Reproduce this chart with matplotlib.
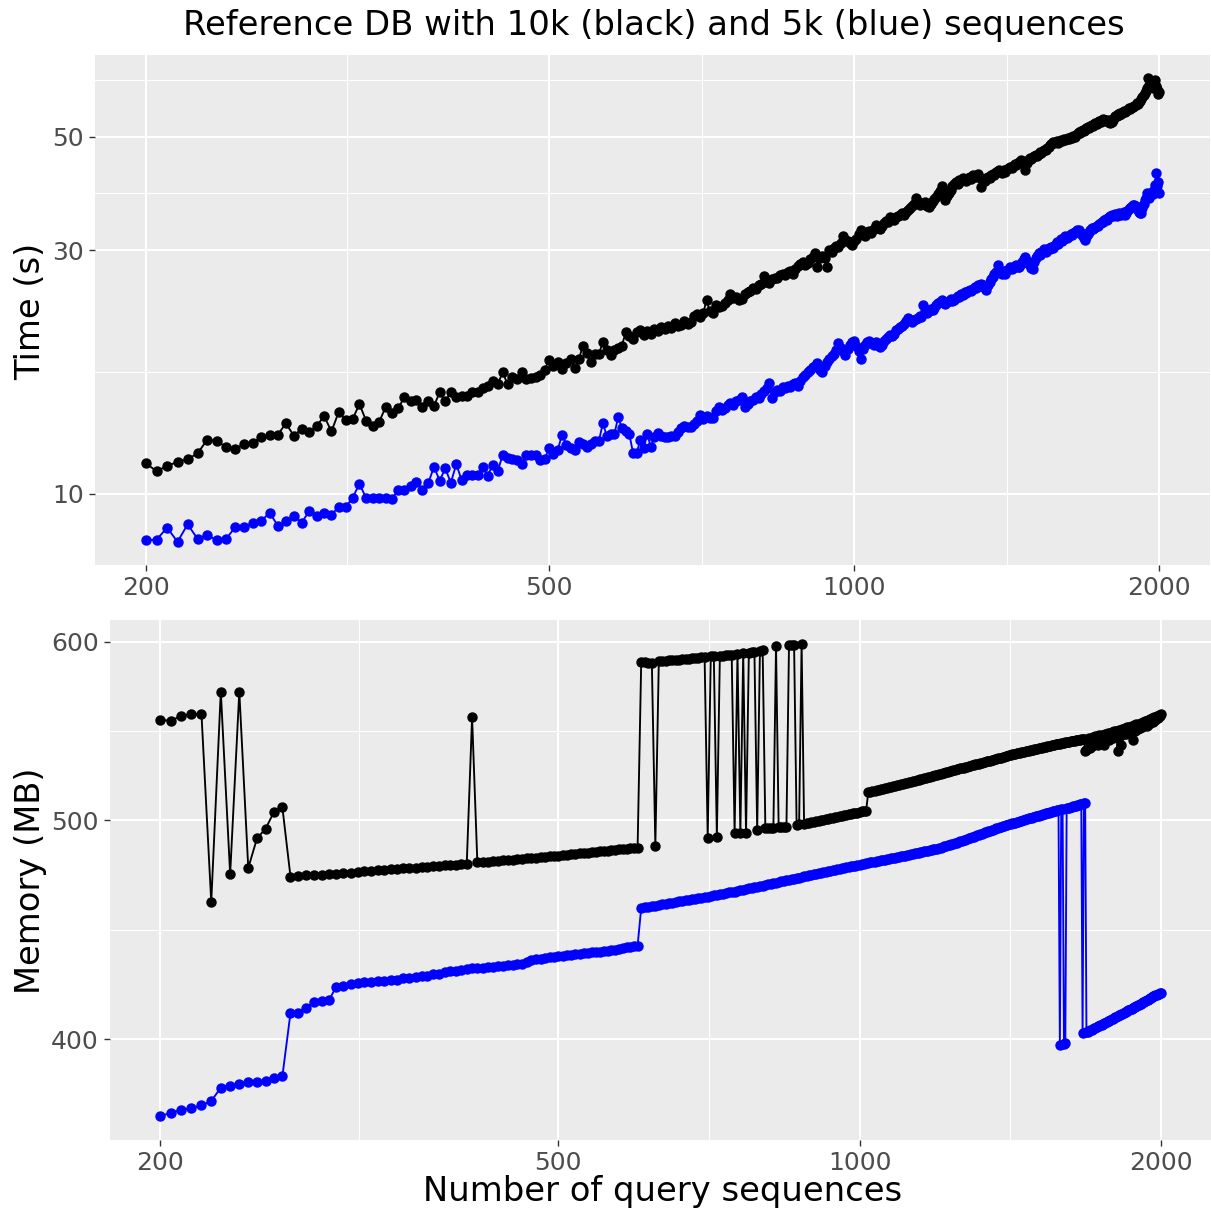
import matplotlib
matplotlib.use('Agg')

import numpy as np
import matplotlib.pyplot as plt
import matplotlib.ticker as mtick

# Data: number of query sequences, 200..2000 in steps of 5
n_query = list(range(200, 2005, 5))

# time (s), reference DB with 10k sequences (black)
time_10k = [
    11.5, 11.07, 11.35, 11.55, 11.7, 12.0, 12.77, 12.7, 12.36, 12.27,
    12.5, 12.6, 12.9, 13.05, 13.05, 13.75, 13.0, 13.4, 13.2, 13.6,
    14.2, 13.25, 14.45, 13.96, 14.0, 15.0, 13.9, 13.6, 13.85, 14.8,
    14.38, 14.7, 15.5, 15.2, 15.28, 14.8, 15.2, 14.88, 15.8, 15.2,
    15.8, 15.5, 15.55, 15.56, 15.8, 15.8, 16.1, 16.3, 16.6, 16.4,
    17.3, 16.4, 16.95, 16.8, 17.35, 16.8, 16.85, 16.95, 17.1, 17.5,
    18.3, 17.8, 18.1, 17.55, 18.0, 18.4, 17.66, 18.35, 19.5, 18.9,
    18.15, 18.8, 18.8, 19.8, 19.1, 18.7, 19.1, 19.3, 19.5, 20.7,
    20.4, 20.1, 20.7, 20.9, 20.5, 20.8, 20.6, 21.0, 20.8, 21.2,
    21.0, 21.3, 21.1, 21.6, 21.3, 21.4, 21.8, 21.5, 21.7, 22.3,
    22.5, 22.2, 22.6, 24.0, 22.8, 22.6, 23.4, 23.2, 23.3, 23.6,
    24.0, 24.6, 24.2, 24.3, 24.0, 24.1, 24.6, 24.8, 25.0, 25.3,
    25.2, 25.6, 25.8, 26.7, 26.0, 25.9, 26.3, 26.5, 26.4, 26.8,
    27.0, 26.8, 27.2, 27.3, 27.0, 27.6, 27.9, 28.2, 28.5, 28.0,
    28.3, 28.8, 29.1, 29.6, 27.8, 28.9, 29.2, 29.0, 27.8, 30.0,
    29.8, 30.3, 30.6, 30.4, 31.0, 31.9, 31.4, 31.2, 31.0, 30.7,
    31.2, 31.6, 32.2, 32.8, 32.3, 32.0, 32.5, 32.7, 32.4, 33.0,
    33.6, 33.2, 33.0, 33.5, 33.9, 34.2, 34.0, 34.9, 34.5, 34.4,
    34.8, 35.0, 35.2, 35.4, 35.1, 35.6, 35.9, 36.3, 36.6, 37.0,
    37.9, 37.2, 36.8, 37.1, 36.9, 37.3, 36.6, 36.5, 37.0, 37.4,
    37.8, 38.1, 38.6, 39.2, 40.1, 38.9, 37.6, 38.3, 38.8, 39.4,
    40.0, 40.5, 40.8, 40.4, 41.2, 40.9, 41.5, 41.3, 41.0, 41.6,
    41.8, 41.4, 42.0, 41.7, 41.9, 42.2, 41.6, 39.8, 41.2, 41.0,
    41.5, 41.8, 41.6, 42.0, 42.3, 42.1, 42.6, 42.9, 43.0, 42.7,
    42.5, 43.0, 42.6, 43.2, 43.5, 43.7, 43.4, 43.9, 44.2, 44.0,
    44.4, 44.7, 45.1, 44.6, 44.2, 43.1, 44.5, 45.0, 45.4, 45.2,
    45.6, 45.9, 46.1, 45.8, 46.3, 46.6, 46.4, 46.8, 47.1, 47.0,
    47.5, 47.8, 48.2, 48.5, 48.9, 48.6, 48.8, 49.0, 48.7, 49.1,
    49.3, 49.0, 49.4, 49.2, 49.5, 49.8, 49.6, 50.0, 49.7, 50.2,
    50.0, 50.4, 50.7, 51.0, 50.8, 51.2, 51.5, 51.3, 51.6, 51.9,
    52.3, 52.0, 52.4, 52.8, 52.6, 52.9, 53.2, 53.0, 53.5, 53.7,
    53.4, 53.9, 54.1, 53.8, 54.0, 53.6, 53.4, 53.8, 53.2, 53.5,
    54.0, 54.4, 54.8, 55.0, 55.3, 55.1, 55.6, 55.4, 55.8, 56.1,
    55.9, 56.2, 56.4, 56.8, 56.6, 57.0, 57.3, 57.1, 57.5, 57.8,
    58.1, 58.0, 58.5, 58.8, 59.3, 59.8, 60.3, 60.8, 61.4, 62.2,
    65.1, 63.2, 62.6, 63.8, 62.4, 63.0, 64.6, 62.8, 61.9, 60.7,
    61.2,
]

# time (s), reference DB with 5k sequences (blue)
time_5k = [
    8.12, 8.14, 8.59, 8.06, 8.72, 8.17, 8.31, 8.12, 8.16, 8.6,
    8.6, 8.76, 8.85, 9.19, 8.67, 8.84, 9.06, 8.78, 9.26, 9.07,
    9.19, 9.1, 9.44, 9.42, 9.83, 10.46, 9.82, 9.81, 9.81, 9.82,
    9.78, 10.18, 10.18, 10.38, 10.57, 10.17, 10.5, 11.3, 10.62, 11.22,
    10.52, 11.43, 10.64, 10.88, 10.87, 10.88, 11.29, 10.86, 11.41, 11.08,
    11.92, 11.76, 11.7, 11.65, 11.44, 11.9, 11.93, 11.9, 11.66, 11.7,
    12.28, 11.96, 12.19, 13.07, 12.47, 12.3, 12.2, 12.63, 12.5, 12.33,
    12.5, 12.7, 12.7, 13.75, 13.0, 13.1, 13.1, 14.13, 13.45, 13.3,
    13.1, 12.05, 12.0, 12.75, 12.3, 13.1, 12.35, 12.9, 13.15, 13.0,
    12.95, 12.95, 13.0, 13.0, 13.2, 13.45, 13.6, 13.5, 13.55, 13.7,
    13.9, 14.27, 14.0, 14.2, 14.1, 14.07, 14.5, 14.8, 14.6, 14.7,
    14.9, 15.05, 14.9, 15.2, 15.3, 15.5, 14.8, 15.0, 15.2, 15.3,
    15.5, 15.4, 15.7, 15.9, 16.1, 16.45, 15.4, 15.8, 16.0, 15.9,
    16.2, 16.1, 16.3, 16.2, 16.4, 16.45, 16.3, 16.6, 16.9, 17.1,
    17.3, 17.5, 17.7, 17.8, 18.0, 17.5, 17.3, 17.8, 18.1, 18.4,
    18.6, 18.8, 19.1, 19.7, 19.3, 19.0, 18.7, 19.2, 19.6, 19.8,
    19.9, 19.5, 19.0, 18.4, 19.2, 19.6, 19.8, 19.9, 19.7, 19.6,
    19.8, 19.6, 19.4, 19.6, 19.9, 20.1, 20.3, 20.5, 20.4, 20.6,
    20.9, 21.0, 21.2, 21.3, 21.5, 21.8, 22.1, 21.9, 21.7, 21.9,
    22.0, 22.1, 22.3, 22.2, 23.4, 22.8, 22.6, 22.8, 23.0, 22.9,
    23.1, 23.4, 23.6, 23.8, 24.0, 23.6, 23.5, 23.8, 23.9, 24.1,
    23.9, 24.0, 24.2, 24.4, 24.3, 24.6, 24.5, 24.8, 24.7, 24.9,
    25.1, 24.9, 25.2, 25.4, 25.3, 25.6, 25.5, 25.8, 25.6, 25.3,
    25.1, 25.6, 26.0, 26.3, 26.6, 26.9, 27.2, 28.1, 27.4, 27.1,
    27.0, 27.3, 27.0, 27.4, 27.6, 27.8, 27.5, 27.7, 27.9, 28.1,
    27.8, 27.8, 28.2, 28.5, 28.8, 29.1, 28.6, 28.3, 28.0, 27.7,
    27.5, 28.4, 28.9, 29.2, 29.6, 29.4, 29.7, 29.9, 30.1, 29.8,
    30.0, 30.3, 30.2, 30.4, 30.3, 30.6, 30.9, 31.1, 30.8, 31.2,
    31.5, 31.3, 31.6, 31.9, 31.7, 31.8, 32.0, 32.2, 32.1, 32.4,
    32.6, 32.5, 32.8, 32.9, 32.6, 32.3, 32.0, 31.7, 31.4, 31.8,
    32.3, 32.6, 32.9, 33.1, 33.0, 33.2, 33.3, 33.5, 33.4, 33.7,
    33.9, 34.1, 34.0, 34.3, 34.5, 34.4, 34.7, 34.9, 35.0, 35.2,
    35.0, 35.1, 35.3, 35.0, 35.2, 35.4, 35.3, 35.1, 35.4, 35.6,
    35.2, 35.5, 35.8, 36.1, 36.3, 36.5, 36.4, 36.7, 36.8, 36.6,
    36.3, 36.0, 35.7, 35.5, 35.4, 36.2, 37.0, 37.6, 38.0, 38.8,
    38.2, 37.9, 38.5, 39.0, 38.7, 39.3, 40.2, 42.4, 40.0, 40.8,
    38.8,
]

# memory (MB), 10k reference (black)
mem_10k = [
    553.9, 553.6, 556.2, 557.1, 557.3, 460.0, 570.2, 473.3, 570.2, 476.3,
    491.0, 495.8, 504.5, 506.7, 472.1, 472.4, 472.7, 472.9, 473.1, 473.3,
    473.6, 473.8, 474.1, 474.4, 474.7, 475.0, 475.3, 475.5, 475.7, 475.9,
    476.1, 476.3, 476.5, 476.7, 476.9, 477.1, 477.3, 477.6, 477.8, 478.0,
    478.2, 478.4, 555.5, 479.0, 479.2, 479.4, 479.6, 479.8, 480.0, 480.2,
    480.4, 480.6, 480.8, 481.0, 481.2, 481.4, 481.6, 481.8, 482.0, 482.2,
    482.4, 482.6, 482.8, 483.0, 483.2, 483.4, 483.6, 483.8, 484.0, 484.2,
    484.4, 484.6, 484.8, 485.0, 485.2, 485.4, 485.6, 485.8, 486.0, 486.1,
    486.3, 587.4, 587.6, 587.2, 587.0, 487.3, 588.0, 588.3, 588.2, 588.6,
    588.9, 589.0, 589.1, 589.3, 589.6, 589.7, 589.9, 590.1, 590.3, 590.4,
    590.6, 491.2, 591.0, 591.1, 491.7, 591.3, 591.5, 591.7, 591.9, 592.2,
    493.7, 592.5, 493.7, 592.9, 493.5, 593.2, 593.5, 593.8, 495.0, 594.3,
    594.7, 496.0, 496.1, 496.2, 496.3, 597.5, 496.4, 496.5, 496.6, 496.7,
    597.9, 598.0, 598.1, 497.9, 498.1, 598.8, 498.4, 498.6, 498.8, 499.1,
    499.3, 499.6, 499.8, 500.1, 500.3, 500.6, 500.8, 501.1, 501.3, 501.6,
    501.8, 502.1, 502.3, 502.6, 502.8, 503.1, 503.3, 503.6, 503.8, 504.0,
    504.3, 504.6, 504.8, 505.0, 514.5, 514.8, 515.0, 515.3, 515.6, 515.8,
    516.1, 516.4, 516.7, 516.9, 517.2, 517.5, 517.7, 518.0, 518.3, 518.5,
    518.8, 519.1, 519.3, 519.6, 519.9, 520.1, 520.4, 520.7, 520.9, 521.2,
    521.5, 521.7, 522.0, 522.3, 522.5, 522.8, 523.1, 523.3, 523.6, 523.9,
    524.1, 524.4, 524.7, 524.9, 525.2, 525.5, 525.7, 526.0, 526.3, 526.5,
    526.7, 527.0, 527.2, 527.5, 527.7, 527.9, 528.2, 528.4, 528.7, 528.9,
    529.1, 529.4, 529.6, 529.8, 530.1, 530.3, 530.6, 530.8, 531.0, 531.3,
    531.5, 531.7, 532.0, 532.2, 532.4, 532.7, 532.9, 533.1, 533.4, 533.6,
    533.8, 534.1, 534.3, 534.5, 534.8, 535.0, 535.2, 535.4, 535.6, 535.7,
    535.9, 536.1, 536.3, 536.5, 536.7, 536.9, 537.1, 537.2, 537.4, 537.6,
    537.8, 538.0, 538.2, 538.4, 538.5, 538.7, 538.9, 539.1, 539.3, 539.5,
    539.6, 539.8, 540.0, 540.2, 540.3, 540.5, 540.6, 540.8, 540.9, 541.1,
    541.2, 541.4, 541.5, 541.7, 541.8, 542.0, 542.1, 542.2, 542.4, 542.5,
    542.7, 542.8, 543.0, 543.1, 543.2, 543.2, 536.8, 537.0, 538.3, 544.0,
    538.5, 539.5, 544.4, 540.0, 544.8, 541.5, 540.2, 545.4, 541.0, 545.6,
    542.0, 540.0, 546.2, 542.5, 546.6, 543.0, 544.0, 547.2, 543.8, 547.6,
    544.2, 548.0, 536.6, 548.4, 545.0, 540.0, 549.0, 545.8, 549.4, 546.2,
    549.8, 546.8, 550.2, 547.2, 550.6, 543.0, 551.0, 548.0, 551.4, 548.6,
    551.8, 549.2, 552.4, 549.8, 552.8, 551.3, 553.2, 550.8, 553.8, 551.5,
    554.4, 553.8, 555.0, 553.0, 555.6, 554.0, 556.2, 555.0, 556.8, 556.2,
    557.5,
]

# memory (MB), 5k reference (blue)
mem_5k = [
    369.7, 371.1, 372.2, 372.7, 373.9, 375.5, 380.7, 381.5, 382.0, 382.8,
    382.8, 383.3, 384.3, 385.1, 410.8, 410.9, 413.1, 415.6, 415.8, 416.2,
    422.0, 422.3, 423.3, 423.6, 423.9, 424.1, 424.3, 424.5, 424.7, 425.0,
    425.6, 425.9, 426.2, 426.5, 426.8, 427.3, 427.7, 428.2, 428.6, 429.0,
    429.3, 429.6, 429.9, 430.1, 430.3, 430.5, 430.7, 430.9, 431.1, 431.3,
    431.5, 431.7, 432.0, 432.6, 433.6, 433.9, 434.2, 434.5, 434.8, 435.1,
    435.4, 435.6, 435.8, 436.0, 436.2, 436.4, 436.6, 436.8, 437.0, 437.2,
    437.4, 437.6, 437.8, 438.0, 438.2, 438.5, 438.8, 439.2, 439.5, 439.7,
    440.0, 457.3, 457.6, 457.8, 458.1, 458.4, 458.6, 458.9, 459.2, 459.5,
    459.8, 460.0, 460.3, 460.6, 460.8, 461.1, 461.4, 461.6, 461.9, 462.1,
    462.3, 462.6, 462.9, 463.2, 463.4, 463.7, 464.0, 464.3, 464.6, 464.8,
    465.0, 465.3, 465.6, 465.9, 466.2, 466.5, 466.7, 467.0, 467.3, 467.6,
    467.8, 468.1, 468.4, 468.7, 469.0, 469.3, 469.5, 469.8, 470.1, 470.4,
    470.7, 470.9, 471.2, 471.4, 471.7, 471.9, 472.2, 472.4, 472.7, 472.9,
    473.2, 473.4, 473.7, 473.9, 474.2, 474.4, 474.7, 474.9, 475.2, 475.5,
    475.7, 476.0, 476.2, 476.4, 476.6, 476.9, 477.1, 477.3, 477.5, 477.8,
    478.0, 478.2, 478.4, 478.6, 478.8, 479.0, 479.2, 479.4, 479.6, 479.8,
    480.0, 480.2, 480.4, 480.6, 480.8, 481.0, 481.2, 481.4, 481.6, 481.8,
    482.0, 482.2, 482.4, 482.6, 482.8, 483.0, 483.2, 483.4, 483.6, 483.8,
    484.0, 484.2, 484.4, 484.6, 484.8, 485.0, 485.2, 485.4, 485.6, 485.8,
    486.0, 486.2, 486.5, 486.9, 487.2, 487.5, 487.8, 488.0, 488.3, 488.5,
    488.8, 489.1, 489.4, 489.7, 490.0, 490.3, 490.6, 490.9, 491.2, 491.5,
    491.8, 492.1, 492.4, 492.7, 493.0, 493.3, 493.6, 493.9, 494.2, 494.5,
    494.8, 495.0, 495.3, 495.6, 495.9, 496.2, 496.5, 496.8, 497.0, 497.3,
    497.5, 497.8, 498.0, 498.2, 498.5, 498.7, 498.9, 499.1, 499.4, 499.6,
    499.8, 500.1, 500.3, 500.5, 500.8, 501.0, 501.2, 501.4, 501.7, 501.9,
    502.1, 502.3, 502.5, 502.8, 503.0, 503.2, 503.4, 503.6, 503.8, 504.0,
    504.2, 504.4, 504.6, 504.8, 505.0, 505.2, 505.4, 397.5, 505.6, 505.8,
    398.0, 398.3, 506.2, 506.4, 506.6, 506.8, 507.0, 507.2, 507.4, 507.6,
    507.8, 508.0, 508.2, 508.5, 402.5, 508.9, 509.2, 402.8, 403.1, 403.4,
    403.6, 403.9, 404.2, 404.4, 404.7, 405.0, 405.2, 405.5, 405.8, 406.0,
    406.3, 406.6, 406.8, 407.1, 407.4, 407.6, 407.9, 408.2, 408.4, 408.7,
    409.0, 409.2, 409.5, 409.8, 410.0, 410.3, 410.6, 410.8, 411.1, 411.4,
    411.6, 411.9, 412.2, 412.4, 412.7, 413.0, 413.2, 413.5, 413.8, 414.0,
    414.3, 414.6, 414.8, 415.1, 415.4, 415.6, 415.9, 416.2, 416.4, 416.7,
    417.0, 417.2, 417.5, 417.8, 418.0, 418.3, 418.5, 418.8, 419.0, 419.2,
    419.4,
]

x_breaks = [200, 500, 1000, 2000]
time_breaks = [10, 30, 50]
mem_breaks = [400, 500, 600]

BG = '#EBEBEB'
TICK_TXT = '#4D4D4D'
TICK_LINE = '#333333'


def log_limits(vals, mult=0.05):
    lo, hi = np.log10(min(vals)), np.log10(max(vals))
    span = hi - lo
    return 10 ** (lo - mult * span), 10 ** (hi + mult * span)


def minor_breaks(breaks, lims):
    # ggplot style: midpoints (in log space) between major breaks, extended one step
    lb = list(np.log10(breaks))
    lb = [2 * lb[0] - lb[1]] + lb + [2 * lb[-1] - lb[-2]]
    mids = [10 ** ((a + b) / 2) for a, b in zip(lb[:-1], lb[1:])]
    return [m for m in mids if lims[0] < m < lims[1]]


def style_axis(ax, xlim, ylim, ybreaks):
    ax.set_facecolor(BG)
    for s in ax.spines.values():
        s.set_visible(False)
    ax.set_xscale('log')
    ax.set_yscale('log')
    ax.set_xlim(xlim)
    ax.set_ylim(ylim)
    ax.xaxis.set_major_locator(mtick.FixedLocator(x_breaks))
    ax.xaxis.set_minor_locator(mtick.FixedLocator(minor_breaks(x_breaks, xlim)))
    ax.yaxis.set_major_locator(mtick.FixedLocator(ybreaks))
    ax.yaxis.set_minor_locator(mtick.FixedLocator(minor_breaks(ybreaks, ylim)))
    ax.xaxis.set_major_formatter(mtick.FixedFormatter([str(b) for b in x_breaks]))
    ax.yaxis.set_major_formatter(mtick.FixedFormatter([str(b) for b in ybreaks]))
    ax.xaxis.set_minor_formatter(mtick.NullFormatter())
    ax.yaxis.set_minor_formatter(mtick.NullFormatter())
    ax.grid(True, which='major', color='white', linewidth=1.45)
    ax.grid(True, which='minor', color='white', linewidth=0.75)
    ax.set_axisbelow(True)
    ax.tick_params(which='major', length=4, width=1.0, color=TICK_LINE,
                   labelcolor=TICK_TXT, labelsize=18, pad=4)
    ax.tick_params(which='minor', length=0)


fig = plt.figure(figsize=(12.11, 12.12), dpi=100)
W, H = 1211, 1212
ax1 = fig.add_axes([95 / W, 1 - 565 / H, (1210 - 95) / W, 510 / H])
ax2 = fig.add_axes([110 / W, 1 - 1140 / H, (1211 - 110) / W, 520 / H])

xlim = log_limits(n_query)
style_axis(ax1, xlim, log_limits(time_10k + time_5k), time_breaks)
style_axis(ax2, xlim, log_limits(mem_10k + mem_5k), mem_breaks)

for ax, black, blue in [(ax1, time_10k, time_5k), (ax2, mem_10k, mem_5k)]:
    ax.plot(n_query, black, color='black', linewidth=1.35, zorder=2)
    ax.plot(n_query, black, 'o', color='black', markersize=6.5, zorder=3)
    ax.plot(n_query, blue, color='blue', linewidth=1.35, zorder=2)
    ax.plot(n_query, blue, 'o', color='blue', markersize=6.5, zorder=3)

fig.text(654 / W, 1 - 26 / H, 'Reference DB with 10k (black) and 5k (blue) sequences',
         ha='center', va='center', fontsize=24.4)
fig.text(31 / W, 1 - 311 / H, 'Time (s)', rotation=90, ha='center', va='center', fontsize=24.3)
fig.text(31 / W, 1 - 881 / H, 'Memory (MB)', rotation=90, ha='center', va='center', fontsize=24.3)
fig.text(663 / W, 1 - 1192 / H, 'Number of query sequences', ha='center', va='center', fontsize=24.3)

plt.savefig('out.png', dpi=100)
